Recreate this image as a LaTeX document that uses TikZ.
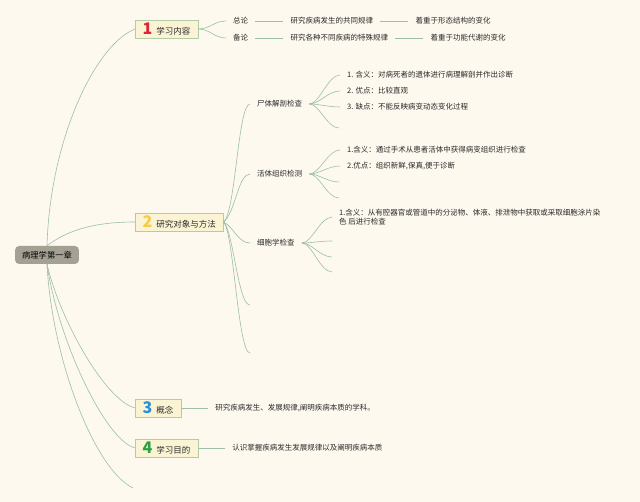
\documentclass[tikz,border=0pt]{standalone}
\usepackage{fontspec}
\setmainfont{Noto Sans CJK SC}
\setsansfont{Noto Sans CJK SC}
\usepackage{xcolor}
\usetikzlibrary{positioning}
\definecolor{bgCream}{HTML}{FDF9EE}
\definecolor{lineGreen}{HTML}{9CBFA6}
\definecolor{boxFill}{HTML}{FBF4D4}
\definecolor{boxEdge}{HTML}{B3CBA6}
\definecolor{rootFill}{HTML}{A4A194}
\definecolor{txtDark}{HTML}{2A2A2A}
\definecolor{numRed}{HTML}{D9263A}
\definecolor{numYellow}{HTML}{F4CB4A}
\definecolor{numBlue}{HTML}{2B8FD6}
\definecolor{numGreen}{HTML}{2EA043}
\tikzset{
  every node/.style={font=\sffamily, text=txtDark},
  link/.style={draw=lineGreen, line width=0.6pt},
  rootbox/.style={fill=rootFill, rounded corners=4pt, inner xsep=7pt, inner ysep=0pt,
                  minimum height=18pt, font=\sffamily\fontsize{8.3}{10}\selectfont, text=black},
  topic/.style={draw=boxEdge, fill=boxFill, anchor=west, inner xsep=7.5pt, inner ysep=0pt,
                minimum height=18pt, font=\sffamily\fontsize{8.5}{10}\selectfont},
  sub/.style={anchor=west, inner xsep=7pt, inner ysep=1pt, font=\sffamily\fontsize{7.5}{9}\selectfont},
  leaf/.style={sub, align=left},
}
\newcommand{\topicnum}[2]{{\fontsize{16}{16}\selectfont\bfseries\color{#1}#2}\hspace{4pt}}

\begin{document}
\begin{tikzpicture}[x=1pt, y=-1pt]
  \fill[bgCream] (0,0) rectangle (640,502);
  \useasboundingbox (0,0) rectangle (640,502);
  % centre
  \node[rootbox] (root) at (47,255) {病理学第一章};
  % main topics
  \node[topic] (learn)   at (135,29)  {\topicnum{numRed}{1}学习内容};
  \node[topic] (method)  at (135,222) {\topicnum{numYellow}{2}研究对象与方法};
  \node[topic] (concept) at (135,408) {\topicnum{numBlue}{3}概念};
  \node[topic] (goal)    at (135,448) {\topicnum{numGreen}{4}学习目的};
  \coordinate (spare) at (133,488);
  % trunk
  \draw[link] (root.north) .. controls (50,140) and (95,45) .. (learn.west);
  \draw[link] (root.north) .. controls (70,228) and (100,222) .. (method.west);
  \draw[link] (root.south) .. controls (60,320) and (105,400) .. (concept.west);
  \draw[link] (root.south) .. controls (58,340) and (105,440) .. (goal.west);
  \draw[link] (root.south) .. controls (52,360) and (95,470) .. (spare);

  % 1 学习内容
  \node[sub] (general) at (226,21) {总论};
  \node[sub] (special) at (226,38) {备论};
  \node[sub, right=28pt of general] (commonLaw)  {研究疾病发生的共同规律};
  \node[sub, right=28pt of special] (specialLaw) {研究各种不同疾病的特殊规律};
  \node[sub, right=28pt of commonLaw]  (morph) {着重于形态结构的变化};
  \node[sub, right=28pt of specialLaw] (func)  {着重于功能代谢的变化};
  \draw[link] (learn.east) .. controls +(12,0) and +(-12,0) .. (general.west);
  \draw[link] (learn.east) .. controls +(12,0) and +(-12,0) .. (special.west);
  \draw[link] (general) -- (commonLaw);
  \draw[link] (special) -- (specialLaw);
  \draw[link] (commonLaw) -- (morph);
  \draw[link] (specialLaw) -- (func);

  % 2 研究对象与方法
  \node[sub] (autopsy)  at (250,104) {尸体解剖检查};
  \node[sub] (biopsy)   at (250,174) {活体组织检测};
  \node[sub] (cytology) at (250,243) {细胞学检查};
  \coordinate (methodA) at (250,305);
  \coordinate (methodB) at (250,353);
  \draw[link] (method.east) .. controls +(12,-10) and +(-12,0) .. (autopsy.west);
  \draw[link] (method.east) .. controls +(12,-10) and +(-12,0) .. (biopsy.west);
  \draw[link] (method.east) .. controls +(10,5) and +(-12,0) .. (cytology.west);
  \draw[link] (method.east) .. controls +(10,10) and +(-12,0) .. (methodA);
  \draw[link] (method.east) .. controls +(10,10) and +(-12,0) .. (methodB);

  % autopsy
  \node[leaf] (autDef)  at (340,75)  {1. 含义：对病死者的遗体进行病理解剖并作出诊断};
  \node[leaf] (autPro)  at (340,91)  {2. 优点：比较直观};
  \node[leaf] (autCon)  at (340,107) {3. 缺点：不能反映病变动态变化过程};
  \coordinate (autNil) at (339,128);
  \foreach \t in {autDef.west, autPro.west, autCon.west, autNil}
    \draw[link] (autopsy.east) .. controls +(10,0) and +(-12,0) .. (\t);

  % biopsy
  \node[leaf] (bioDef) at (340,150) {1.含义：通过手术从患者活体中获得病变组织进行检查};
  \node[leaf] (bioPro) at (340,166) {2.优点：组织新鲜,保真,便于诊断};
  \coordinate (bioNilA) at (339,182);
  \coordinate (bioNilB) at (339,198);
  \foreach \t in {bioDef.west, bioPro.west, bioNilA, bioNilB}
    \draw[link] (biopsy.east) .. controls +(10,0) and +(-12,0) .. (\t);

  % cytology
  \node[leaf, anchor=north west] (cytDef) at (332,208)
    {1.含义：从有腔器官或管道中的分泌物、体液、排泄物中获取或采取细胞涂片染\\色 后进行检查};
  \coordinate (cytNilA) at (332,241);
  \coordinate (cytNilB) at (332,257);
  \coordinate (cytNilC) at (332,272);
  \draw[link] (cytology.east) .. controls +(10,0) and +(-12,0) .. (cytDef.west);
  \foreach \t in {cytNilA, cytNilB, cytNilC}
    \draw[link] (cytology.east) .. controls +(10,0) and +(-12,0) .. (\t);

  % 3 概念, 4 学习目的
  \node[sub, right=27pt of concept] (conceptText) {研究疾病发生、发展规律,阐明疾病本质的学科。};
  \node[sub, right=27pt of goal]    (goalText)    {认识掌握疾病发生发展规律以及阐明疾病本质};
  \draw[link] (concept) -- (conceptText);
  \draw[link] (goal) -- (goalText);
\end{tikzpicture}
\end{document}
